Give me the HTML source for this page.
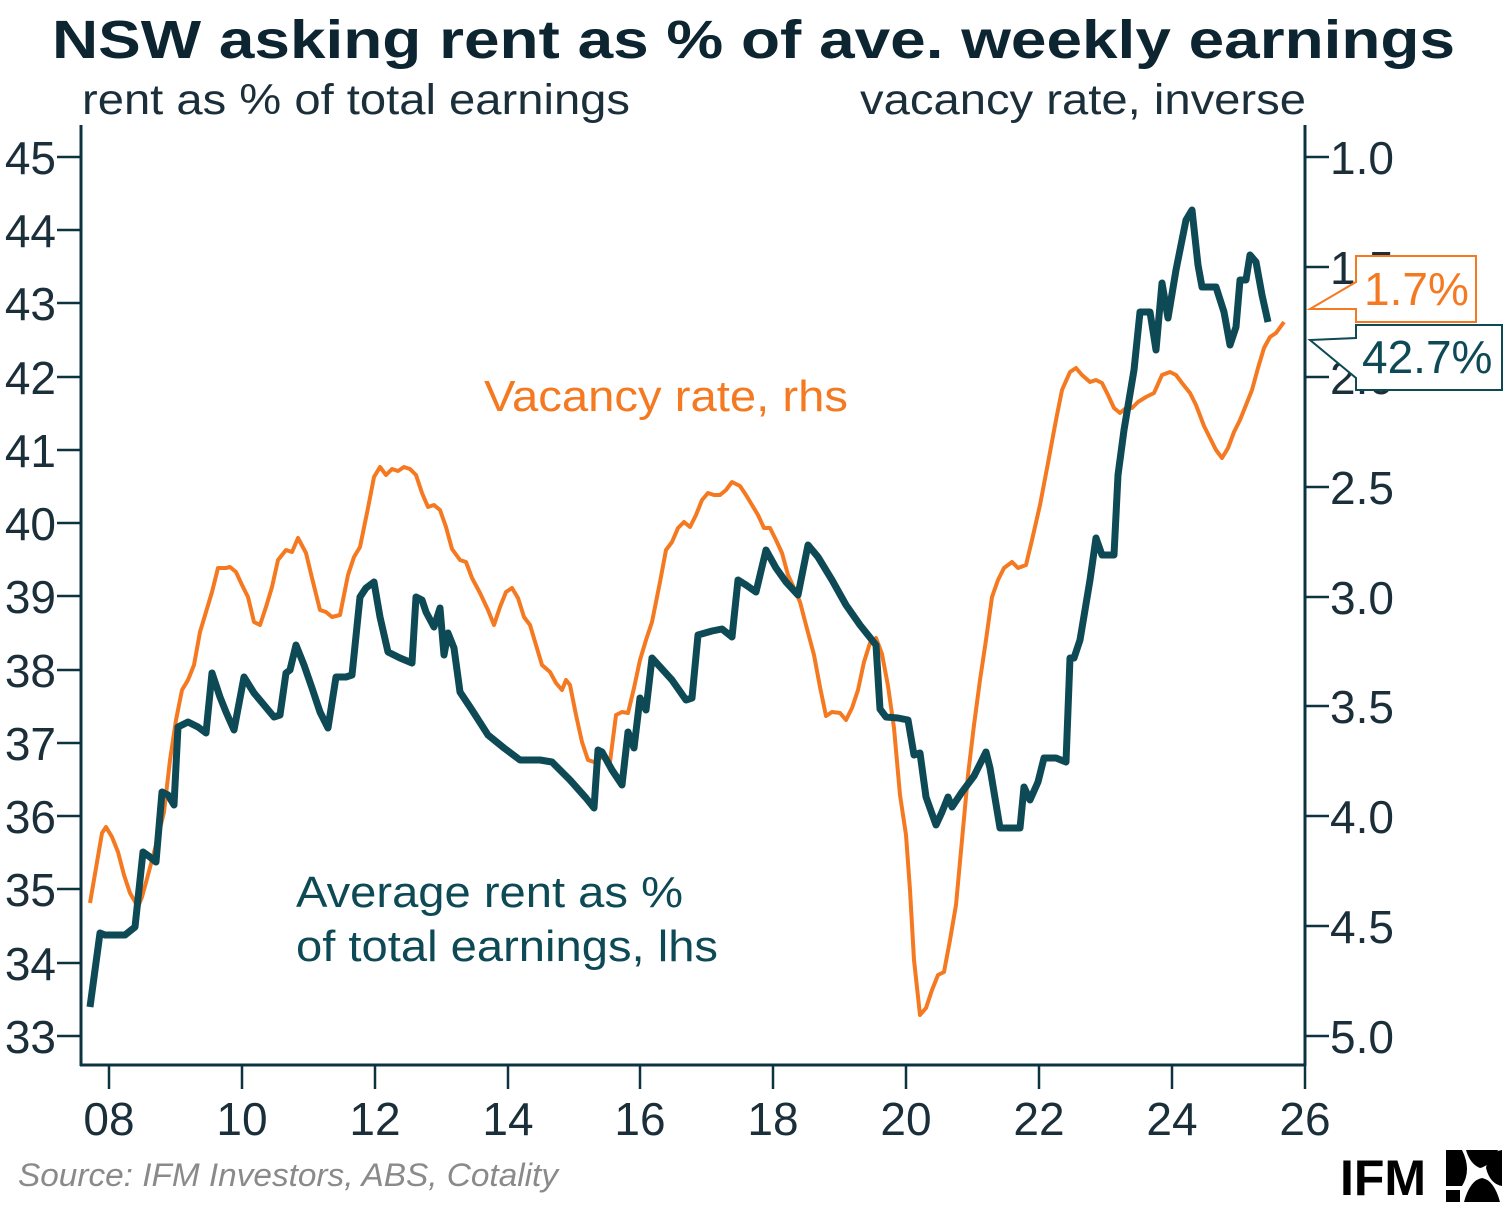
<!DOCTYPE html>
<html><head><meta charset="utf-8"><style>
body{margin:0;background:#fff;}
svg text{font-family:"Liberation Sans",Arial,sans-serif;}
</style></head><body>
<svg width="1506" height="1216" viewBox="0 0 1506 1216" xmlns="http://www.w3.org/2000/svg">
<rect width="1506" height="1216" fill="#fff"/>
<text x="52" y="58" font-size="54" font-weight="bold" fill="#0d2530" textLength="1403" lengthAdjust="spacingAndGlyphs">NSW asking rent as % of ave. weekly earnings</text>
<text x="82" y="114" font-size="43" fill="#1b2f3a" textLength="548" lengthAdjust="spacingAndGlyphs">rent as % of total earnings</text>
<text x="860" y="114" font-size="43" fill="#1b2f3a" textLength="446" lengthAdjust="spacingAndGlyphs">vacancy rate, inverse</text>
<g stroke="#0d3340" stroke-width="3" fill="none">
<line x1="81" y1="125" x2="81" y2="1066"/>
<line x1="80" y1="1065" x2="1306" y2="1065"/>
<line x1="1305" y1="125" x2="1305" y2="1066"/>
</g>
<g stroke="#0d3340" stroke-width="2.5">
<line x1="57" y1="157" x2="81" y2="157"/><line x1="57" y1="230" x2="81" y2="230"/><line x1="57" y1="303" x2="81" y2="303"/><line x1="57" y1="377" x2="81" y2="377"/><line x1="57" y1="450" x2="81" y2="450"/><line x1="57" y1="523" x2="81" y2="523"/><line x1="57" y1="596" x2="81" y2="596"/><line x1="57" y1="670" x2="81" y2="670"/><line x1="57" y1="743" x2="81" y2="743"/><line x1="57" y1="816" x2="81" y2="816"/><line x1="57" y1="889" x2="81" y2="889"/><line x1="57" y1="963" x2="81" y2="963"/><line x1="57" y1="1036" x2="81" y2="1036"/>
<line x1="1305" y1="157" x2="1329" y2="157"/><line x1="1305" y1="267" x2="1329" y2="267"/><line x1="1305" y1="377" x2="1329" y2="377"/><line x1="1305" y1="487" x2="1329" y2="487"/><line x1="1305" y1="597" x2="1329" y2="597"/><line x1="1305" y1="706" x2="1329" y2="706"/><line x1="1305" y1="816" x2="1329" y2="816"/><line x1="1305" y1="926" x2="1329" y2="926"/><line x1="1305" y1="1036" x2="1329" y2="1036"/>
<line x1="109" y1="1065" x2="109" y2="1089"/><line x1="242" y1="1065" x2="242" y2="1089"/><line x1="375" y1="1065" x2="375" y2="1089"/><line x1="508" y1="1065" x2="508" y2="1089"/><line x1="640" y1="1065" x2="640" y2="1089"/><line x1="773" y1="1065" x2="773" y2="1089"/><line x1="906" y1="1065" x2="906" y2="1089"/><line x1="1039" y1="1065" x2="1039" y2="1089"/><line x1="1172" y1="1065" x2="1172" y2="1089"/><line x1="1305" y1="1065" x2="1305" y2="1089"/>
</g>
<g font-size="46" fill="#1b2f3a" text-anchor="end">
<text x="56" y="174">45</text><text x="56" y="247">44</text><text x="56" y="320">43</text><text x="56" y="394">42</text><text x="56" y="467">41</text><text x="56" y="540">40</text><text x="56" y="613">39</text><text x="56" y="687">38</text><text x="56" y="760">37</text><text x="56" y="833">36</text><text x="56" y="906">35</text><text x="56" y="980">34</text><text x="56" y="1053">33</text>
</g>
<g font-size="46" fill="#1b2f3a">
<text x="1330" y="174">1.0</text><text x="1330" y="284">1.5</text><text x="1330" y="394">2.0</text><text x="1330" y="504">2.5</text><text x="1330" y="614">3.0</text><text x="1330" y="723">3.5</text><text x="1330" y="833">4.0</text><text x="1330" y="943">4.5</text><text x="1330" y="1053">5.0</text>
</g>
<g font-size="46" fill="#1b2f3a" text-anchor="middle">
<text x="109" y="1135">08</text><text x="242" y="1135">10</text><text x="375" y="1135">12</text><text x="508" y="1135">14</text><text x="640" y="1135">16</text><text x="773" y="1135">18</text><text x="906" y="1135">20</text><text x="1039" y="1135">22</text><text x="1172" y="1135">24</text><text x="1305" y="1135">26</text>
</g>
<polyline fill="none" stroke="#f47920" stroke-width="4" stroke-linejoin="round" points="90,903 96,868 102,833 106,827 112,837 118,852 124,875 130,893 138,907 142,897 148,875 156,845 164,812 170,760 176,720 182,690 188,680 194,665 200,632 206,612 212,592 218,568 226,568 230,567 236,572 242,585 248,597 254,622 260,625 266,607 272,587 278,560 286,550 292,552 298,538 306,553 312,578 320,610 326,612 332,617 340,615 348,575 354,557 360,547 368,508 374,477 380,467 386,475 392,469 398,471 404,467 410,469 416,475 422,493 428,507 434,505 440,510 446,527 452,549 460,560 466,562 472,578 480,593 488,610 494,625 500,607 506,592 512,588 518,598 524,617 530,625 536,645 542,665 550,672 556,683 562,690 566,680 570,685 576,715 582,742 588,760 594,762 598,760 604,755 610,762 616,715 622,712 628,713 634,688 640,660 646,640 652,622 660,582 666,550 672,542 678,528 684,522 690,527 696,515 702,500 708,493 714,495 720,495 726,490 732,482 740,486 746,495 752,505 758,515 764,528 770,528 776,540 782,553 788,575 794,588 800,602 806,625 814,655 820,687 826,716 832,712 840,713 846,720 852,708 858,690 864,662 870,643 876,638 882,654 888,686 894,728 900,795 906,835 910,890 914,960 920,1015 926,1008 932,990 938,975 944,972 950,940 956,905 962,840 968,775 974,725 980,680 986,640 992,597 998,580 1004,568 1012,562 1018,568 1026,565 1032,540 1040,505 1048,463 1056,420 1062,390 1070,372 1076,368 1082,375 1090,382 1096,380 1102,383 1108,395 1114,408 1120,413 1126,408 1132,408 1138,402 1146,397 1154,393 1162,375 1170,372 1176,375 1182,383 1190,393 1196,405 1204,426 1210,438 1216,450 1222,458 1228,448 1234,432 1240,420 1246,405 1252,390 1258,368 1264,348 1270,337 1276,333 1284,322"/>
<polyline fill="none" stroke="#0d4a55" stroke-width="7" stroke-linejoin="round" points="90,1007 100,933 105,935 125,935 135,927 143,852 150,857 156,862 162,792 168,795 174,805 178,727 188,722 198,727 206,733 212,673 220,697 226,712 234,730 244,677 254,693 264,705 274,717 280,715 286,673 290,670 296,645 304,665 312,688 320,712 328,728 336,677 346,677 352,675 360,597 366,588 374,582 380,617 388,652 400,658 412,663 416,597 422,600 426,612 434,627 440,608 444,655 448,633 454,648 460,692 472,710 488,735 504,748 520,760 540,760 552,762 570,780 586,798 594,808 598,750 602,752 612,770 622,785 628,732 634,748 640,698 646,710 652,658 672,680 686,700 692,698 698,635 712,631 722,629 732,637 738,580 746,585 756,592 766,550 776,568 786,582 798,595 808,545 818,557 832,580 846,605 860,625 876,645 880,709 886,717 898,718 908,720 914,755 920,753 926,797 936,825 942,812 948,797 952,807 962,792 974,776 986,752 990,768 1000,828 1020,828 1024,787 1030,800 1038,782 1044,758 1056,758 1066,762 1070,658 1074,658 1080,640 1090,580 1096,538 1102,555 1114,555 1118,475 1124,430 1134,370 1140,312 1150,312 1156,350 1162,283 1168,318 1176,270 1186,220 1192,210 1198,265 1202,287 1216,287 1224,312 1230,345 1236,327 1240,280 1246,280 1250,255 1256,262 1262,295 1268,322"/>
<text x="484" y="411" font-size="44" fill="#f47920" textLength="364" lengthAdjust="spacingAndGlyphs">Vacancy rate, rhs</text>
<text x="296" y="907" font-size="44" fill="#0d4a55" textLength="387" lengthAdjust="spacingAndGlyphs">Average rent as %</text>
<text x="296" y="961" font-size="44" fill="#0d4a55" textLength="422" lengthAdjust="spacingAndGlyphs">of total earnings, lhs</text>
<path d="M1356,256 L1476,256 L1476,322 L1356,322 L1356,309 L1310,309 L1356,282 Z" fill="#fff" stroke="#f47920" stroke-width="2"/>
<text x="1364" y="305" font-size="46" fill="#f47920">1.7%</text>
<path d="M1356,325 L1502,325 L1502,390 L1356,390 L1356,378 L1310,340 L1356,338 Z" fill="#fff" stroke="#0d4a55" stroke-width="2"/>
<text x="1362" y="373" font-size="46" fill="#0d4a55">42.7%</text>
<text x="18" y="1186" font-size="32" font-style="italic" fill="#8a8a8a" textLength="540" lengthAdjust="spacingAndGlyphs">Source: IFM Investors, ABS, Cotality</text>
<text x="1340" y="1195" font-size="50" font-weight="bold" fill="#000">IFM</text>
<g fill="#000">
<path d="M1446,1150 L1462,1150 Q1472,1170 1462,1186 L1446,1186 Z"/>
<path d="M1502,1150 L1502,1186 Q1490,1184 1486,1168 Q1488,1152 1502,1150 Z"/>
<path d="M1466,1150 L1498,1150 Q1490,1166 1480,1168 Q1470,1164 1466,1150 Z"/>
<path d="M1464,1202 L1500,1202 Q1494,1180 1482,1178 Q1470,1180 1464,1202 Z"/>
<path d="M1446,1190 L1460,1190 L1460,1202 L1446,1202 Z"/>
</g>
</svg>
</body></html>
